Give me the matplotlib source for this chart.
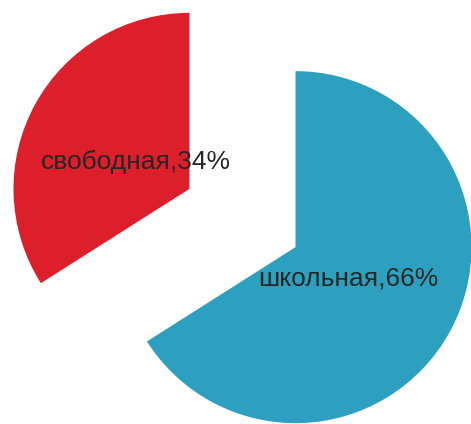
import matplotlib.pyplot as plt

# data
labels = ['свободная', 'школьная']
shares = [34, 66]
colors = ['#DC1F2B', '#2EA0BF']

W, H = 471, 424

fig = plt.figure(figsize=(W / 100, H / 100), dpi=100)
ax = fig.add_axes([0, 0, 1, 1])

texts = [f'{name},{val}%' for name, val in zip(labels, shares)]
ax.pie(shares, labels=texts, colors=colors, startangle=90, counterclock=True,
       center=(242.5, 206), radius=176, explode=[60.5, 60.5],
       labeldistance=0.345,
       textprops=dict(ha='center', va='center_baseline', fontsize=19,
                      family='Liberation Sans', color='#262626'),
       wedgeprops=dict(linewidth=0))

ax.set_xlim(0, W)
ax.set_ylim(0, H)
ax.set_aspect('equal')
ax.axis('off')

fig.savefig('out.png', dpi=100)
